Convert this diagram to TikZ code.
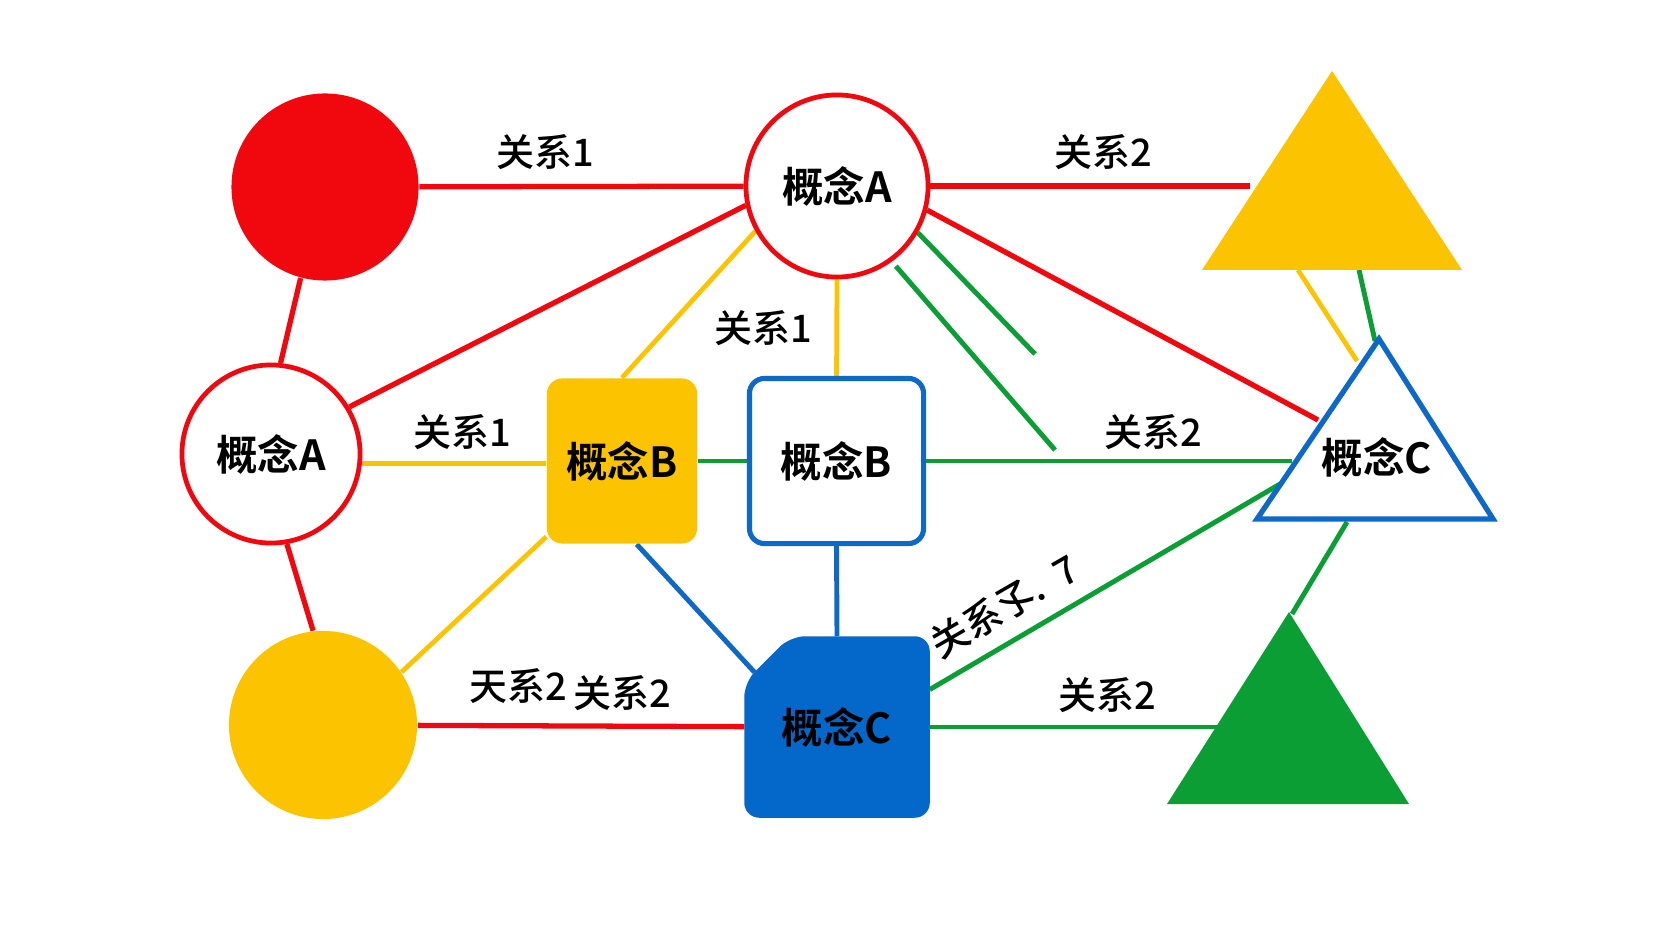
\documentclass[tikz,border=0pt]{standalone}
\usepackage{fontspec}
\setmainfont{Noto Sans CJK SC}[BoldFont={Noto Sans CJK SC Bold}]
\newfontfamily\relfamily{Noto Sans CJK SC Medium}
\usetikzlibrary{calc}
\pgfdeclarelayer{canvas}
\pgfdeclarelayer{edges}
\pgfdeclarelayer{shapes}
\pgfsetlayers{canvas,edges,shapes,main}

\definecolor{cred}{RGB}{240,8,14}
\definecolor{cyel}{RGB}{252,195,0}
\definecolor{cblue}{RGB}{14,104,200}
\definecolor{cbluefill}{RGB}{4,104,202}
\definecolor{cgreen}{RGB}{10,158,52}

\tikzset{
  conceptfont/.style={font=\fontsize{11.8}{14}\selectfont\bfseries},
  relfont/.style={font=\relfamily\fontsize{10.8}{13}\selectfont},
  redln/.style={draw=cred, line width=1.5pt},
  yelln/.style={draw=cyel, line width=1.35pt},
  grnln/.style={draw=cgreen, line width=1.4pt},
  bluln/.style={draw=cblue, line width=1.4pt},
  dotfill/.style={circle, inner sep=0pt, minimum size=#1},
  ringnode/.style={circle, draw=cred, line width=1.35pt, fill=white,
    inner sep=0pt, minimum size=#1, conceptfont},
  boxnode/.style={rectangle, rounded corners=0.15cm, inner sep=0pt, conceptfont},
  rel/.style={relfont, inner sep=1pt},
}

\begin{document}
\begin{tikzpicture}[x=0.01cm, y=-0.01cm]
\begin{pgfonlayer}{canvas}
  \fill[white] (0,0) rectangle (1674,940);
\end{pgfonlayer}
\useasboundingbox (0,0) rectangle (1674,940);

% concept nodes
\node[dotfill=1.87cm, fill=cred] (rc) at (325,187) {};
\node[ringnode=1.82cm] (cA1) at (837,186) {概念A};
\node[ringnode=1.78cm] (cA2) at (271,454) {概念A};
\node[dotfill=1.88cm, fill=cyel] (yc) at (323,725) {};
\node[boxnode, fill=cyel, minimum width=1.50cm, minimum height=1.65cm] (bY) at (622,461) {概念B};
\node[boxnode, draw=cblue, line width=1.45pt, fill=white,
      minimum width=1.74cm, minimum height=1.65cm] (bW) at (836.5,461) {概念B};
\node[rectangle, inner sep=0pt, conceptfont, minimum width=1.84cm, minimum height=1.80cm] (cC) at (837,727) {概念C};
\node[conceptfont, inner sep=0pt] (cCt) at (1377,457) {概念C};

% triangle corners and connector ends
\coordinate (yTa) at (1332,71);  \coordinate (yTl) at (1202,270); \coordinate (yTr) at (1462,270);
\coordinate (tCa) at (1379,339); \coordinate (tCl) at (1257,519); \coordinate (tCr) at (1493,519);
\coordinate (gTa) at (1289,612); \coordinate (gTl) at (1167,804); \coordinate (gTr) at (1409,804);
\coordinate (yTw) at (1250,186);
\coordinate (tCe1) at (1318,420);
\coordinate (tCw) at (1292,461);
\coordinate (tCe2) at (1280,484);
\coordinate (tCb) at (1347,522);
\coordinate (tCt1) at (1357,361);
\coordinate (tCt2) at (1375,341);
\coordinate (yTb1) at (1298,270);
\coordinate (yTb2) at (1359,270);
\coordinate (gTw) at (1217,727);
\coordinate (gTt) at (1292,614);
\coordinate (gs1) at (1035,354);
\coordinate (gs2) at (1055,450);
\coordinate (cCch1) at ($(cC.north west)+(0,46)$);
\coordinate (cCch2) at ($(cC.north west)+(46,0)$);
\coordinate (cCcut) at ($(cCch1)!0.22!(cCch2)$);

% filled shapes under the texts
\begin{pgfonlayer}{shapes}
  \fill[cbluefill, rounded corners=0.15cm] (cC.south west) -- (cCch1) -- (cCch2)
    -- (cC.north east) -- (cC.south east) -- cycle;
  \fill[cyel] (yTa) -- (yTr) -- (yTl) -- cycle;
  \fill[cgreen] (gTa) -- (gTr) -- (gTl) -- cycle;
  \draw[cblue, line width=1.5pt, fill=white, line join=miter] (tCa) -- (tCr) -- (tCl) -- cycle;
\end{pgfonlayer}

% connectors
\begin{pgfonlayer}{edges}
  \draw[redln] (rc) -- (cA1);
  \draw[redln] (cA1) -- (yTw);
  \draw[redln] (rc.255) -- (cA2.84);
  \draw[redln] (cA2.280) -- (yc.96);
  \draw[redln] (cA1.192) -- (cA2.31);
  \draw[redln] (cA1.345) -- (tCe1);
  \draw[redln] (yc) -- (cC);
  \draw[yelln] (cA1.209) -- (bY.north);
  \draw[yelln] (cA1.south) -- (bW.north);
  \draw[yelln] (cA2.354) -- (cA2.354 -| bY.west);
  \draw[yelln] (bY.225) -- (yc.34);
  \draw[yelln] (yTb1) -- (tCt1);
  \draw[grnln] (cA1.330) -- (gs1);
  \draw[grnln, shorten <=0.06cm] (cA1.306) -- (gs2);
  \draw[grnln] (bY) -- (bW);
  \draw[grnln] (bW) -- (tCw);
  \draw[grnln] (cC.22) -- (tCe2);
  \draw[grnln] (cC) -- (gTw);
  \draw[grnln] (tCb) -- (gTt);
  \draw[grnln] (yTb2) -- (tCt2);
  \draw[bluln] (bY.280) -- (cCcut);
  \draw[bluln] (bW.south) -- (cC.north);
\end{pgfonlayer}

% relation labels
\node[rel] (l1) at (545,152) {关系1};
\node[rel] (l2) at (1103,152) {关系2};
\node[rel] (l3) at (763,328) {关系1};
\node[rel] (l4) at (462,432) {关系1};
\node[rel] (l5) at (1153,432) {关系2};
\node[rel] (l6) at (518,686) {天系2};
\node[rel] (l7) at (622,693) {关系2};
\node[rel] (l8) at (1107,695) {关系2};
\node[rel, rotate=30, inner sep=0pt] (l9) at (1004,606) {关系孓.\ \ 7};
\end{tikzpicture}
\end{document}
